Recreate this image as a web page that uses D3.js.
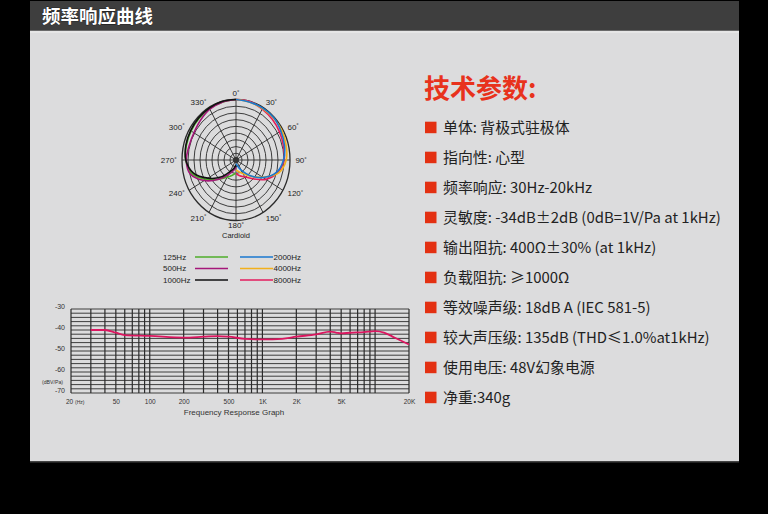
<!DOCTYPE html>
<html><head><meta charset="utf-8">
<script src="https://cdn.jsdelivr.net/npm/d3@7/dist/d3.min.js"></script>
<style>
html,body{margin:0;padding:0;background:#000;}
svg{display:block;}
</style></head>
<body>
<svg id="c" width="768" height="514"></svg>
<script>
// ---------------- DATA ----------------
const pageTitle = "频率响应曲线";
const specTitle = "技术参数:";
const specItems = [
  "单体: 背极式驻极体",
  "指向性: 心型",
  "频率响应: 30Hz-20kHz",
  "灵敏度: -34dB±2dB (0dB=1V/Pa at 1kHz)",
  "输出阻抗: 400Ω±30% (at 1kHz)",
  "负载阻抗: ≥1000Ω",
  "等效噪声级: 18dB A (IEC 581-5)",
  "较大声压级: 135dB (THD≤1.0%at1kHz)",
  "使用电压: 48V幻象电源",
  "净重:340g"
];

// polar pattern (normalized radius), left half: low frequencies, right half: high frequencies
const polarAnglesRight = [0,15,30,45,60,75,90,105,120,135,150,165,180];
const polarAnglesLeft  = [180,195,210,225,240,255,270,285,300,315,330,345,360];
const polar125  = [0.22,0.26,0.33,0.45,0.64,0.85,0.93,0.95,0.96,0.97,0.98,0.99,1.00];
const polar500  = [0.12,0.18,0.28,0.45,0.68,0.88,0.92,0.90,0.90,0.93,0.97,0.99,1.00];
const polar1000 = [0.08,0.14,0.22,0.40,0.60,0.82,0.93,0.96,0.97,0.98,0.99,1.00,1.00];
const polar2000 = [1.00,0.99,0.99,0.99,0.96,0.93,0.88,0.78,0.58,0.36,0.20,0.10,0.06];
const polar4000 = [1.00,0.99,0.98,0.98,0.98,0.96,0.93,0.82,0.57,0.38,0.26,0.20,0.17];
const polar8000 = [1.00,1.00,0.97,0.95,0.93,0.91,0.89,0.80,0.64,0.44,0.32,0.27,0.22];
const polarRings = [1,2,3,4,5,6,7,8,9];
const polarSpokes = [0,30,60,90,120,150,180,210,240,270,300,330];
const polarCaption = "Cardioid";

const legendLeft  = ["125Hz","500Hz","1000Hz"];
const legendRight = ["2000Hz","4000Hz","8000Hz"];
const colors = {"125Hz":"#4fae2a","500Hz":"#a5177a","1000Hz":"#111111","2000Hz":"#1a78cf","4000Hz":"#f2b01c","8000Hz":"#e51c5c"};

// frequency response
const freqHz = [30,40,50,60,100,200,300,400,500,700,1000,1500,2000,3000,4000,4500,5000,6000,8000,10000,12000,15000,20000];
const respDb = [-40,-40,-41.3,-42.4,-42.8,-43.6,-43.2,-42.9,-43.2,-44.2,-44.5,-44.2,-43.2,-42.1,-40.8,-41.2,-41.6,-41.3,-41,-40.5,-41.2,-43.7,-46.9];
const freqGrid = [20,30,40,50,60,70,80,90,100,200,300,400,500,600,700,800,900,1000,2000,3000,4000,5000,6000,7000,8000,9000,10000,20000];
const freqTickValues = [20,50,100,200,500,1000,2000,5000,20000];
const freqTickLabels = ["20","50","100","200","500","1K","2K","5K","20K"];
const dbTickValues = [-30,-40,-50,-60,-70];
const dbTickLabels = ["-30","-40","-50","-60","-70"];
const dbGrid = d3.range(-70,-29,2);
const freqCaption = "Frequency Response Graph";

// ---------------- DRAW ----------------
const svg = d3.select("#c");
const LAT = "'Liberation Sans', Arial, sans-serif";
const CJK = "'Noto Sans CJK SC', 'Noto Sans', sans-serif";

// frames
svg.append("rect").attr("x",30).attr("y",1).attr("width",709).attr("height",29).attr("fill","#3e3e3e");
svg.append("rect").attr("x",30).attr("y",30).attr("width",709).attr("height",1).attr("fill","#6a6a6a");
svg.append("rect").attr("x",30).attr("y",31).attr("width",709).attr("height",431).attr("fill","#dcdcdd");
svg.append("rect").attr("x",30).attr("y",31).attr("width",709).attr("height",2).attr("fill","#e6e6e6");
svg.append("rect").attr("x",30).attr("y",461).attr("width",709).attr("height",1.5).attr("fill","#444");
svg.append("text").attr("x",42).attr("y",22.5).text(pageTitle)
  .attr("font-family",CJK).attr("font-weight","bold").attr("font-size",18.5)
  .attr("fill","#fff").attr("stroke","#111").attr("stroke-width",0.6).attr("paint-order","stroke");

// ---- polar ----
const cx = 236, cy = 160;
const rX = d3.scaleLinear().domain([0,1]).range([0,54]);
const rY = d3.scaleLinear().domain([0,1]).range([0,60.5]);
const ringScale = d3.scaleLinear().domain([0,9]).range([0,1]);
const px = (a,r)=> cx + rX(r)*Math.sin(a*Math.PI/180);
const py = (a,r)=> cy - rY(r)*Math.cos(a*Math.PI/180);
const pg = svg.append("g");
pg.selectAll("ellipse.ring").data(polarRings).join("ellipse")
  .attr("cx",cx).attr("cy",cy)
  .attr("rx",d=>rX(ringScale(d))).attr("ry",d=>rY(ringScale(d)))
  .attr("fill","none").attr("stroke","#2a2a2a").attr("stroke-width",d=>d===9?1.3:0.9);
pg.selectAll("line.spoke").data(polarSpokes).join("line")
  .attr("x1",cx).attr("y1",cy)
  .attr("x2",d=>px(d,1)).attr("y2",d=>py(d,1))
  .attr("stroke","#2a2a2a").attr("stroke-width",0.9);
pg.append("circle").attr("cx",cx).attr("cy",cy).attr("r",3).attr("fill","#333");

const polarLine = d3.line().x(d=>px(d[0],d[1])).y(d=>py(d[0],d[1])).curve(d3.curveCatmullRom.alpha(0.5));
const polarSeries = [
  {k:"125Hz", a:polarAnglesLeft, v:polar125},
  {k:"500Hz", a:polarAnglesLeft, v:polar500},
  {k:"1000Hz",a:polarAnglesLeft, v:polar1000},
  {k:"8000Hz",a:polarAnglesRight,v:polar8000},
  {k:"4000Hz",a:polarAnglesRight,v:polar4000},
  {k:"2000Hz",a:polarAnglesRight,v:polar2000}
];
pg.selectAll("path.ser").data(polarSeries).join("path")
  .attr("d",s=>polarLine(s.a.map((a,i)=>[a,s.v[i]])))
  .attr("fill","none").attr("stroke",s=>colors[s.k]).attr("stroke-width",1.6);

const lab = pg.selectAll("text.deg").data(polarSpokes).join("text")
  .attr("x",d=>px(d,1.1)).attr("y",d=>d===180?228:py(d,1.1)+3)
  .attr("text-anchor",d=>(d===0||d===180)?"middle":(d<180?"start":"end"))
  .attr("font-family",LAT).attr("font-size",8).attr("fill","#222");
lab.append("tspan").text(d=>d);
lab.append("tspan").text("°").attr("font-size",6).attr("dy",-2.5);
pg.append("text").attr("x",cx).attr("y",237.5).attr("text-anchor","middle")
  .attr("font-family",LAT).attr("font-size",7.5).attr("fill","#222").text(polarCaption);

// legend
const lg = svg.append("g");
legendLeft.forEach((k,i)=>{
  const y = 257 + i*11.5;
  lg.append("text").attr("x",163).attr("y",y+2.8).text(k).attr("font-family",LAT).attr("font-size",8).attr("fill","#222");
  lg.append("line").attr("x1",195).attr("x2",228).attr("y1",y).attr("y2",y).attr("stroke",colors[k]).attr("stroke-width",1.6);
});
legendRight.forEach((k,i)=>{
  const y = 257 + i*11.5;
  lg.append("line").attr("x1",240).attr("x2",273).attr("y1",y).attr("y2",y).attr("stroke",colors[k]).attr("stroke-width",1.6);
  lg.append("text").attr("x",273.5).attr("y",y+2.8).text(k).attr("font-family",LAT).attr("font-size",8).attr("fill","#222");
});

// ---- frequency response ----
const fx = d3.scaleLog().domain([20,20000]).range([71,409]);
const fy = d3.scaleLinear().domain([-70,-30]).range([393,309]);
const fg = svg.append("g");
fg.selectAll("line.h").data(dbGrid).join("line")
  .attr("x1",fx(20)).attr("x2",fx(20000)).attr("y1",d=>fy(d)).attr("y2",d=>fy(d))
  .attr("stroke","#2b2b2b").attr("stroke-width",0.9);
fg.selectAll("line.v").data(freqGrid).join("line")
  .attr("y1",fy(-70)).attr("y2",fy(-30)).attr("x1",d=>fx(d)).attr("x2",d=>fx(d))
  .attr("stroke","#2b2b2b").attr("stroke-width",1.2);
fg.append("path").datum(freqHz.map((f,i)=>[f,respDb[i]]))
  .attr("d",d3.line().x(d=>fx(d[0])).y(d=>fy(d[1])).curve(d3.curveMonotoneX))
  .attr("fill","none").attr("stroke","#dc1660").attr("stroke-width",1.8);

const xAxis = fg.append("g").attr("transform",`translate(0,${fy(-70)+3})`)
  .call(d3.axisBottom(fx).tickValues(freqTickValues).tickFormat((d,i)=>freqTickLabels[i]).tickSize(0));
xAxis.select(".domain").remove();
xAxis.selectAll("text").attr("font-family",LAT).attr("font-size",6.5).attr("fill","#333");
xAxis.selectAll(".tick").filter(d=>d===20).select("text").attr("dx",-2);
const yAxis = fg.append("g").attr("transform",`translate(${fx(20)-3},0)`)
  .call(d3.axisLeft(fy).tickValues(dbTickValues).tickFormat((d,i)=>dbTickLabels[i]).tickSize(0));
yAxis.select(".domain").remove();
yAxis.selectAll("text").attr("font-family",LAT).attr("font-size",7).attr("fill","#333").attr("dy","-0.05em");
fg.append("text").attr("x",42).attr("y",384).text("(dBV/Pa)").attr("font-family",LAT).attr("font-size",5.2).attr("fill","#333");
fg.append("text").attr("x",75).attr("y",403.5).text("(Hz)").attr("font-family",LAT).attr("font-size",5).attr("fill","#333");
fg.append("text").attr("x",234).attr("y",415).attr("text-anchor","middle").text(freqCaption)
  .attr("font-family",LAT).attr("font-size",8).attr("fill","#333");

// ---- specs ----
const sg = svg.append("g");
sg.append("text").attr("x",424).attr("y",98).text(specTitle)
  .attr("font-family",CJK).attr("font-weight","bold").attr("font-size",26).attr("fill","#e8321c");
const rowY = d3.scaleLinear().domain([0,1]).range([127.5,157.5]);
sg.selectAll("rect.b").data(specItems).join("rect")
  .attr("x",425).attr("y",(d,i)=>rowY(i)-5.8).attr("width",11.5).attr("height",11.5).attr("fill","#e33012");
sg.selectAll("text.t").data(specItems).join("text")
  .attr("x",443).attr("y",(d,i)=>rowY(i)+5.4).text(d=>d)
  .attr("font-family",CJK).attr("font-size",14.9).attr("fill","#222");
</script>
</body></html>
